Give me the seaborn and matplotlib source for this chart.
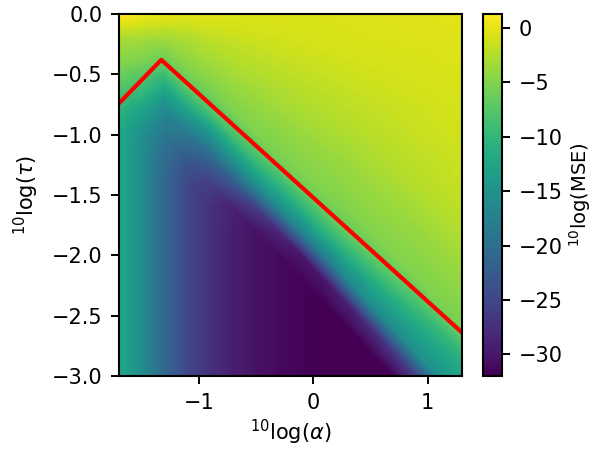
import numpy as np
import matplotlib
matplotlib.use("Agg")
import matplotlib.pyplot as plt
import matplotlib.tri as mtri
from matplotlib.colors import Normalize
from matplotlib.cm import ScalarMappable
import seaborn as sns

# grid nodes (log10 alpha, log10 tau)
log_alpha = [-1.7, -1.5, -1.3, -1.1, -0.9, -0.7, -0.5, -0.3, -0.1, 0.1, 0.3, 0.5, 0.7, 0.9, 1.1, 1.3]
log_tau = [0.0, -0.2, -0.4, -0.6, -0.8, -1.0, -1.2, -1.4, -1.6, -1.8, -2.0, -2.2, -2.4, -2.6, -2.8, -3.0]

# log10(MSE), one row per log_tau value
mse_t00 = [1.3, 0.6, 0.1, -0.2, -0.3, -0.4, -0.5, -0.5, -0.6, -0.6, -0.5, -0.5, -0.4, -0.4, -0.3, -0.3]
mse_t02 = [-3.0, -3.2, -3.5, -2.8, -2.0, -1.6, -1.3, -1.1, -0.9, -0.8, -0.7, -0.6, -0.55, -0.5, -0.45, -0.4]
mse_t04 = [-4.8, -5.5, -6.5, -4.5, -3.5, -2.7, -2.2, -1.8, -1.5, -1.3, -1.1, -1.0, -0.9, -0.8, -0.65, -0.55]
mse_t06 = [-7.5, -9.0, -12.0, -7.0, -5.2, -4.0, -3.3, -2.7, -2.2, -1.9, -1.6, -1.4, -1.2, -1.05, -0.9, -0.8]
mse_t08 = [-10.5, -13.0, -16.5, -13.0, -8.0, -5.2, -4.3, -3.6, -3.0, -2.5, -2.1, -1.8, -1.55, -1.35, -1.15, -1.0]
mse_t10 = [-12.0, -15.5, -19.0, -19.0, -15.0, -8.5, -5.3, -4.6, -3.9, -3.3, -2.8, -2.3, -1.9, -1.6, -1.35, -1.1]
mse_t12 = [-12.0, -16.0, -20.5, -23.0, -21.5, -15.0, -9.0, -5.6, -4.7, -4.1, -3.6, -3.0, -2.4, -2.0, -1.7, -1.4]
mse_t14 = [-12.0, -16.0, -21.0, -25.0, -26.0, -23.0, -15.0, -10.0, -5.7, -4.8, -4.2, -3.7, -3.1, -2.4, -1.9, -1.6]
mse_t16 = [-12.0, -16.0, -21.0, -25.0, -27.5, -29.0, -26.0, -16.0, -10.5, -6.0, -5.0, -4.3, -3.8, -3.2, -2.5, -2.0]
mse_t18 = [-12.0, -16.0, -21.0, -25.0, -27.5, -29.3, -30.5, -28.5, -17.0, -10.5, -6.5, -5.1, -4.4, -3.9, -3.3, -2.5]
mse_t20 = [-12.0, -16.0, -21.0, -25.0, -27.5, -29.3, -30.5, -31.2, -30.0, -17.5, -11.0, -7.2, -5.1, -4.5, -4.0, -3.4]
mse_t22 = [-12.0, -16.0, -21.0, -25.0, -27.5, -29.3, -30.5, -31.2, -31.7, -30.0, -16.5, -11.5, -7.8, -5.3, -4.6, -4.0]
mse_t24 = [-12.0, -16.0, -21.0, -25.0, -27.5, -29.3, -30.5, -31.2, -31.7, -32.0, -29.0, -16.0, -12.0, -8.7, -5.4, -4.7]
mse_t26 = [-12.0, -16.0, -21.0, -25.0, -27.5, -29.3, -30.5, -31.2, -31.7, -32.0, -32.0, -28.0, -16.0, -12.3, -9.5, -5.7]
mse_t28 = [-12.0, -16.0, -21.0, -25.0, -27.5, -29.3, -30.5, -31.2, -31.7, -32.0, -32.0, -32.0, -27.0, -15.5, -12.7, -10.0]
mse_t30 = [-12.0, -16.0, -21.0, -25.0, -27.5, -29.3, -30.5, -31.2, -31.7, -32.0, -32.0, -32.0, -32.0, -26.0, -15.0, -12.5]

# red boundary line
red_x = [-1.7, -1.33, 1.3]
red_y = [-0.74, -0.38, -2.64]

x_ticks = [-1, 0, 1]
y_ticks = [0.0, -0.5, -1.0, -1.5, -2.0, -2.5, -3.0]
cbar_ticks = [0, -5, -10, -15, -20, -25, -30]
vmin, vmax = -32.0, 1.3

sns.set_style("ticks")
plt.rcParams.update({
    "font.family": ["DejaVu Sans"],
    "axes.edgecolor": "black",
    "text.color": "black",
    "axes.labelcolor": "black",
    "xtick.color": "black",
    "ytick.color": "black",
    "font.size": 15,
    "mathtext.fontset": "dejavusans",
})

field = np.array([mse_t00, mse_t02, mse_t04, mse_t06, mse_t08, mse_t10, mse_t12, mse_t14,
                  mse_t16, mse_t18, mse_t20, mse_t22, mse_t24, mse_t26, mse_t28, mse_t30])

fig = plt.figure(figsize=(5.97, 4.51), dpi=100)
W, H = 597.0, 451.0
ax = fig.add_axes([119 / W, (H - 376) / H, 343 / W, 362 / H])
cax = fig.add_axes([483 / W, (H - 376) / H, 19 / W, 362 / H])

cmap = sns.color_palette("viridis", as_cmap=True)
norm = Normalize(vmin=vmin, vmax=vmax)

# triangulate the reading grid, splitting each cell along its down-right diagonal
ny, nx = field.shape
X, Y = np.meshgrid(log_alpha, log_tau)
triangles = []
for i in range(ny - 1):
    for j in range(nx - 1):
        a = i * nx + j
        triangles.append([a, a + 1, a + nx + 1])
        triangles.append([a, a + nx, a + nx + 1])
tri = mtri.Triangulation(X.ravel(), Y.ravel(), triangles)
levels = np.linspace(vmin, vmax, 240)
ax.tricontourf(tri, field.ravel(), levels=levels, cmap=cmap, norm=norm,
               extend="both", antialiased=False)

sns.lineplot(x=red_x, y=red_y, ax=ax, color="red", lw=3.0, sort=False, estimator=None)

ax.set_xlim(log_alpha[0], log_alpha[-1])
ax.set_ylim(log_tau[-1], log_tau[0])
ax.set_xticks(x_ticks)
ax.set_yticks(y_ticks)
ax.set_yticklabels([f"{v:.1f}".replace("-", "\u2212") for v in y_ticks])
ax.set_xlabel(r"$^{10}\log(\alpha)$", fontsize=15, labelpad=4)
ax.set_ylabel(r"$^{10}\log(\tau)$", fontsize=15, labelpad=8)
for s in ax.spines.values():
    s.set_linewidth(1.5)
    s.set_visible(True)
    s.set_zorder(5)
ax.tick_params(length=6, width=1.4, labelsize=15, pad=6)

sm = ScalarMappable(norm=norm, cmap=cmap)
cb = fig.colorbar(sm, cax=cax, ticks=cbar_ticks)
cb.set_label(r"$^{10}\log(\mathrm{MSE})$", fontsize=14, labelpad=3)
cb.outline.set_linewidth(1.5)
cax.tick_params(length=6, width=1.4, labelsize=15, pad=6)

fig.savefig("out.png", dpi=100)
